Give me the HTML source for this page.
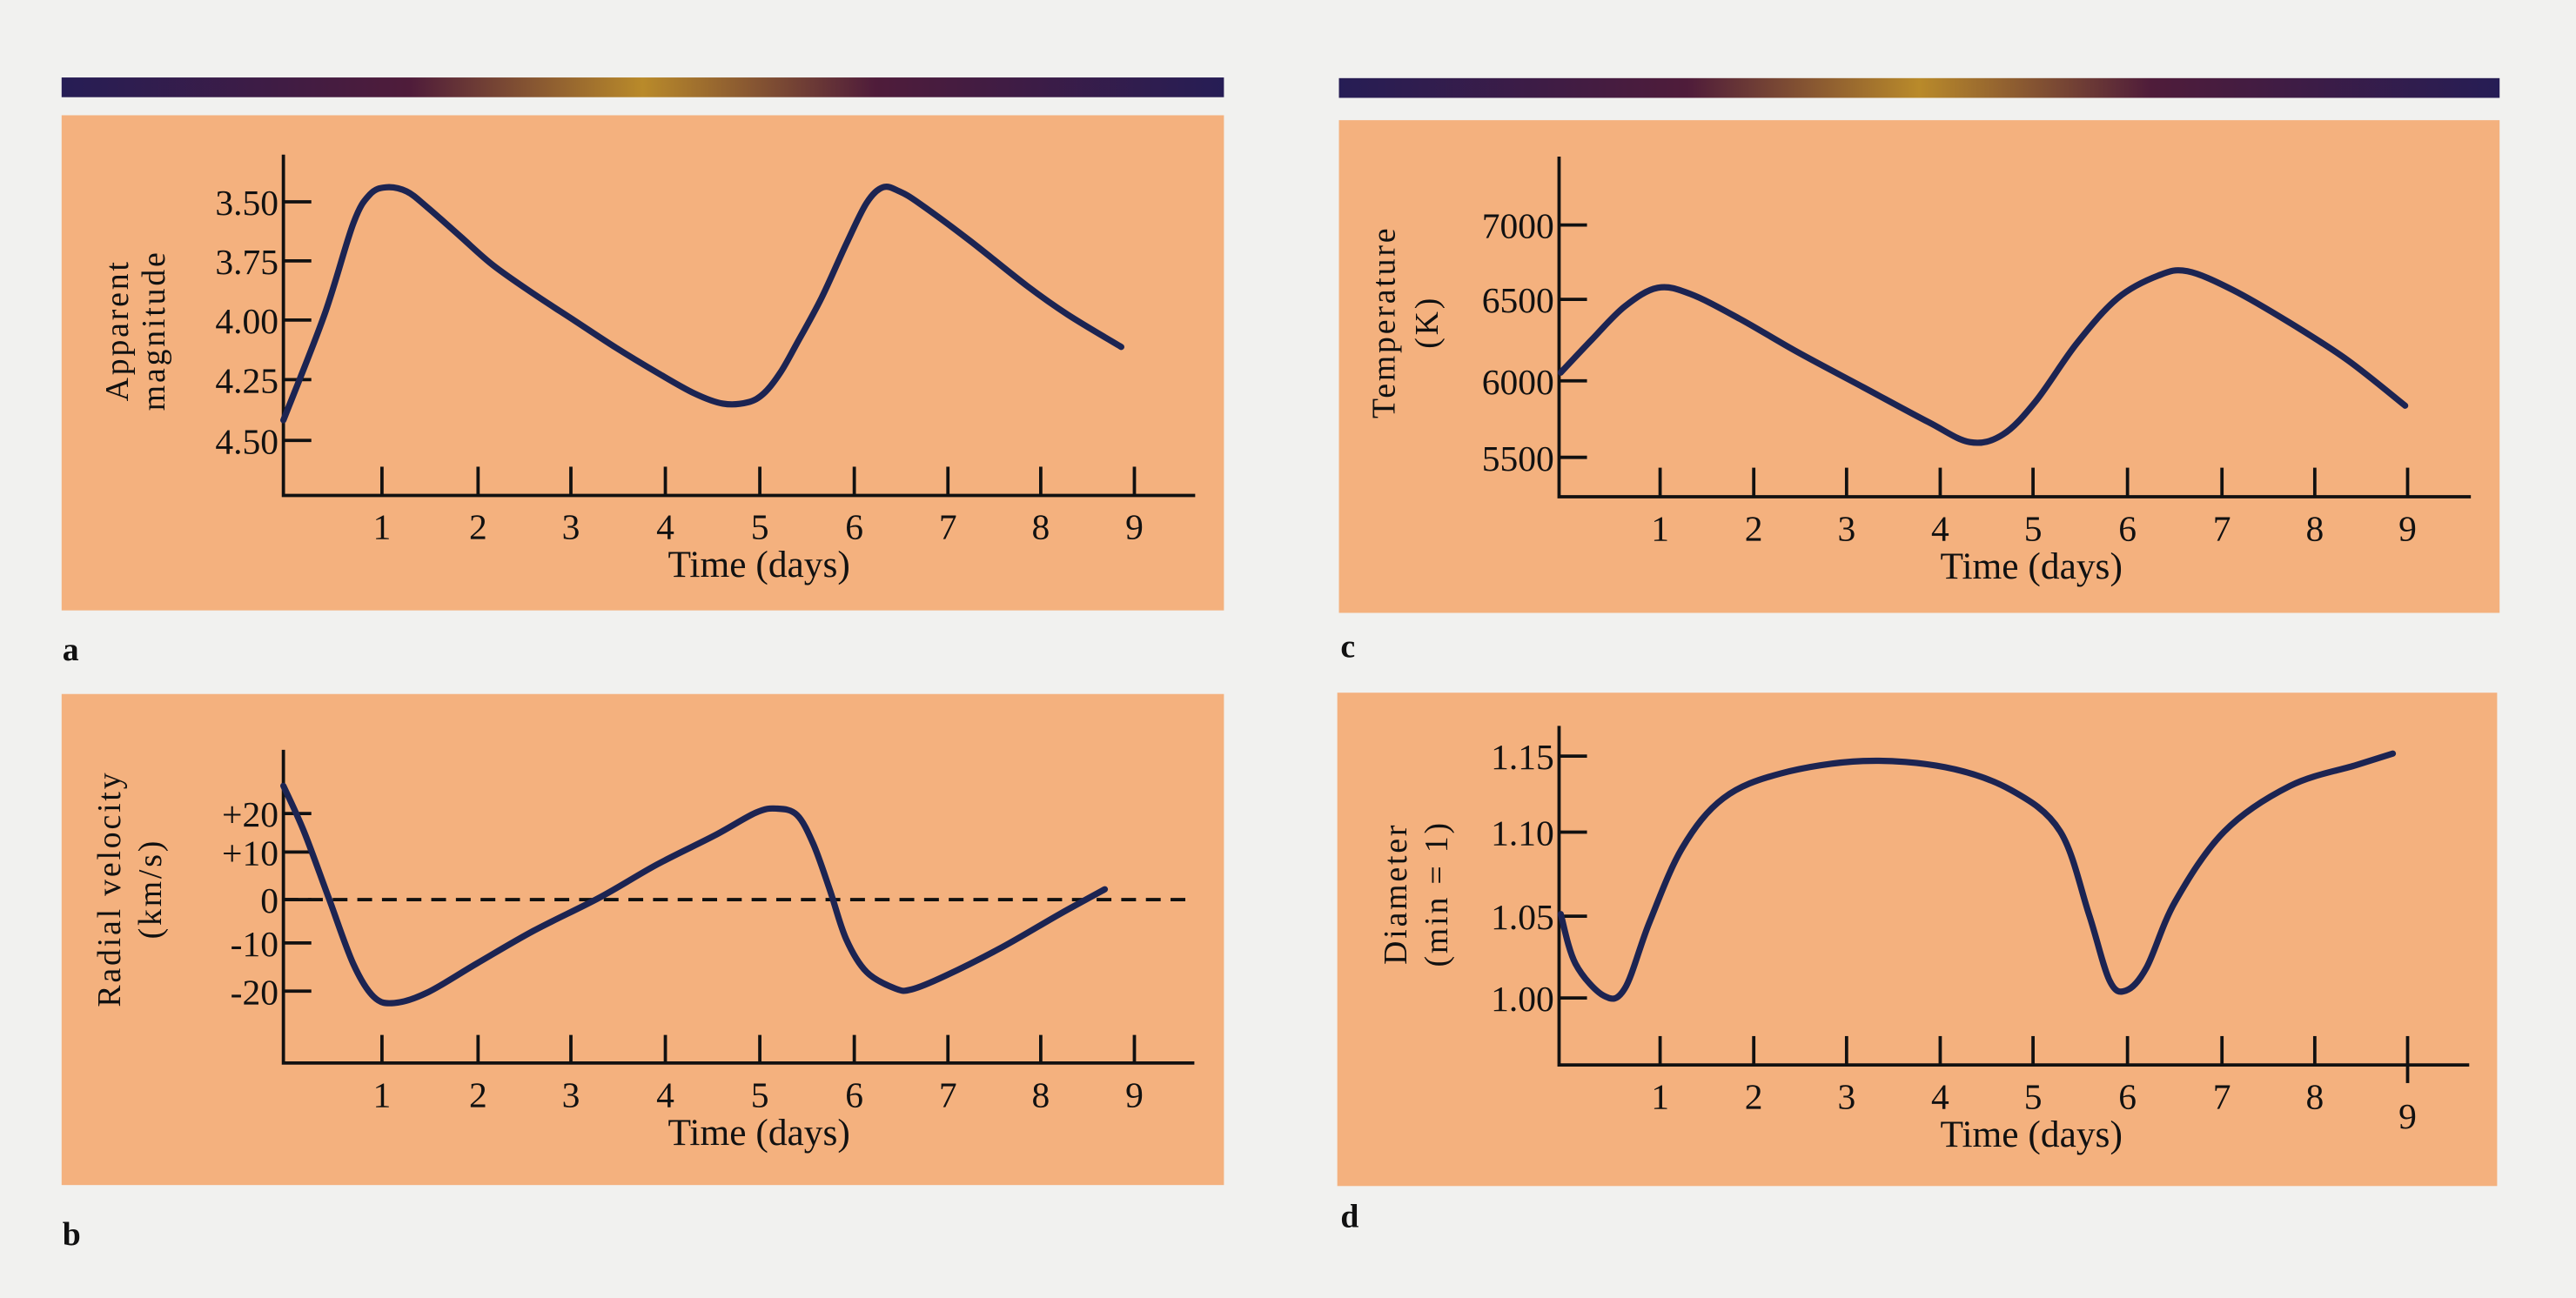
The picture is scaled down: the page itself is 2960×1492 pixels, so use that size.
<!DOCTYPE html>
<html><head><meta charset="utf-8"><style>
html,body{margin:0;padding:0;background:#f1f1ef;}
svg{display:block;}
text{font-family:"Liberation Serif",serif;fill:#111;}
</style></head><body>
<svg id="s" width="2960" height="1492" viewBox="0 0 1568 790" xmlns="http://www.w3.org/2000/svg">
<defs>
<linearGradient id="bar" x1="0" x2="1" y1="0" y2="0">
<stop offset="0" stop-color="#261d55"/><stop offset="0.3" stop-color="#4f1c3a"/>
<stop offset="0.5" stop-color="#b98a2a"/><stop offset="0.7" stop-color="#4f1c3a"/>
<stop offset="1" stop-color="#261d55"/></linearGradient>
</defs>
<rect width="1568" height="790" fill="#f1f1ef"/>
<rect x="37.5" y="47" width="707.5" height="12" fill="url(#bar)"/>
<rect x="815" y="47.4" width="706.5" height="12" fill="url(#bar)"/>
<rect x="37.5" y="70" width="707.5" height="301.5" fill="#f4b17e"/>
<rect x="815" y="73" width="706.5" height="300" fill="#f4b17e"/>
<rect x="37.5" y="422.4" width="707.5" height="299" fill="#f4b17e"/>
<rect x="814" y="421.6" width="706" height="300.4" fill="#f4b17e"/>
<g id="g" stroke="#111" stroke-width="2" fill="none"></g>
<g id="c" stroke="#1c2452" stroke-width="3.8" fill="none" stroke-linecap="round" stroke-linejoin="round"></g>
<g id="t" font-size="22" text-anchor="middle"></g>
<g font-size="20" text-anchor="middle" letter-spacing="1.5">
<text transform="translate(71,201) rotate(-90)" dy="7">Apparent</text>
<text transform="translate(93,201) rotate(-90)" dy="7">magnitude</text>
<text transform="translate(66,541) rotate(-90)" dy="7">Radial velocity</text>
<text transform="translate(91,541) rotate(-90)" dy="7">(km/s)</text>
<text transform="translate(842,196) rotate(-90)" dy="7">Temperature</text>
<text transform="translate(868,196) rotate(-90)" dy="7">(K)</text>
<text transform="translate(849,544) rotate(-90)" dy="7">Diameter</text>
<text transform="translate(874,544) rotate(-90)" dy="7">(min = 1)</text>
</g>
<g font-size="20" font-weight="bold">
<text x="38" y="402">a</text><text x="38" y="758">b</text>
<text x="816" y="400">c</text><text x="816" y="747">d</text>
</g>
</svg>
<script>
var NS="http://www.w3.org/2000/svg";
function el(p,n,a,txt){var e=document.createElementNS(NS,n);for(var k in a)e.setAttribute(k,a[k]);if(txt!==undefined)e.textContent=txt;document.getElementById(p).appendChild(e);return e;}
function panel(o){
 el('g','path',{d:'M'+o.ax+' '+o.top+'V'+o.xy+'H'+o.xend});
 o.xt.forEach(function(x,i){el('g','path',{d:'M'+x+' '+o.tt+'V'+(i==8&&o.nine?o.xy+11:o.xy)});
   el('t','text',{x:x,y:(i==8&&o.nine?o.nine:o.lb)},String(i+1));});
 el('t','text',{x:o.tx,y:o.ty,'font-size':'23'},'Time (days)');
 o.yt.forEach(function(p){el('g','path',{d:'M'+o.ax+' '+p[0]+'H'+(o.ax+17)});
   el('t','text',{x:o.ax-3,y:p[0]+8,'text-anchor':'end'},p[1]);});
}
var xa=[232.5,291,347.5,405,462.5,520,577,633.5,690.5];
var xc=[1010.5,1067.5,1124,1181,1237.5,1295,1352.5,1409,1465.5];
panel({ax:172.5,top:94,xy:301.5,xend:727.5,xt:xa,tt:284,lb:328,tx:462,ty:351,
 yt:[[122.7,'3.50'],[158.7,'3.75'],[194.7,'4.00'],[231,'4.25'],[268,'4.50']]});
panel({ax:172.5,top:456.4,xy:647.1,xend:727,xt:xa,tt:630,lb:674,tx:462,ty:697,
 yt:[[495.2,'+20'],[518.6,'+10'],[547.6,'0'],[574,'-10'],[603.3,'-20']]});
panel({ax:949,top:95.2,xy:302.3,xend:1504,xt:xc,tt:284.6,lb:329,tx:1236.5,ty:352,
 yt:[[136.8,'7000'],[182.1,'6500'],[231.7,'6000'],[278.3,'5500']]});
panel({ax:949,top:441.8,xy:648.3,xend:1503,xt:xc,tt:630.7,lb:675,tx:1236.5,ty:698,nine:687,
 yt:[[460.2,'1.15'],[506.5,'1.10'],[557.7,'1.05'],[607.5,'1.00']]});
el('g','path',{d:'M172.5 547.6H727','stroke-dasharray':'9 6'});
function curve(ox,oy,pts){
 var P=pts.map(function(p){return [ox+p[0]/2,oy+p[1]/3.97];});
 var d='M'+P[0][0]+' '+P[0][1];
 for(var i=0;i<P.length-1;i++){
  var p0=P[Math.max(0,i-1)],p1=P[i],p2=P[i+1],p3=P[Math.min(P.length-1,i+2)];
  var c1=[p1[0]+(p2[0]-p0[0])/6,p1[1]+(p2[1]-p0[1])/6],c2=[p2[0]-(p3[0]-p1[0])/6,p2[1]-(p3[1]-p1[1])/6];
  d+='C'+c1.join(' ')+' '+c2.join(' ')+' '+p2.join(' ');
 }
 el('c','path',{d:d});
}
curve(0,0,[[345,1015],[395,760],[430,540],[450,470],[470,452],[495,462],[520,500],[560,570],[600,640],[650,710],[700,775],[750,840],[800,900],[845,950],[880,975],[910,972],[930,950],[950,900],[970,830],[1000,720],[1030,590],[1055,490],[1075,452],[1095,462],[1120,492],[1180,580],[1250,690],[1300,760],[1365,838]]);
curve(0,395.2,[[345,330],[370,440],[400,600],[430,760],[455,840],[480,855],[520,830],[580,760],[650,680],[730,600],[800,520],[870,450],[920,395],[945,385],[970,400],[990,470],[1010,580],[1030,700],[1055,780],[1090,820],[1110,822],[1150,790],[1220,720],[1290,640],[1345,580]]);
curve(784,0,[[332,900],[370,820],[410,740],[450,695],[490,710],[550,770],[620,850],[700,935],[780,1020],[830,1068],[870,1050],[910,970],[960,830],[1010,720],[1060,665],[1095,655],[1150,700],[1220,780],[1290,870],[1360,980]]);
curve(784,395.2,[[332,640],[350,760],[385,838],[410,820],[440,660],[480,480],[530,360],[600,300],[700,270],[800,285],[880,340],[940,440],[975,640],[1000,800],[1020,825],[1045,770],[1080,610],[1140,440],[1220,330],[1300,280],[1345,252]]);
</script>
</body></html>
